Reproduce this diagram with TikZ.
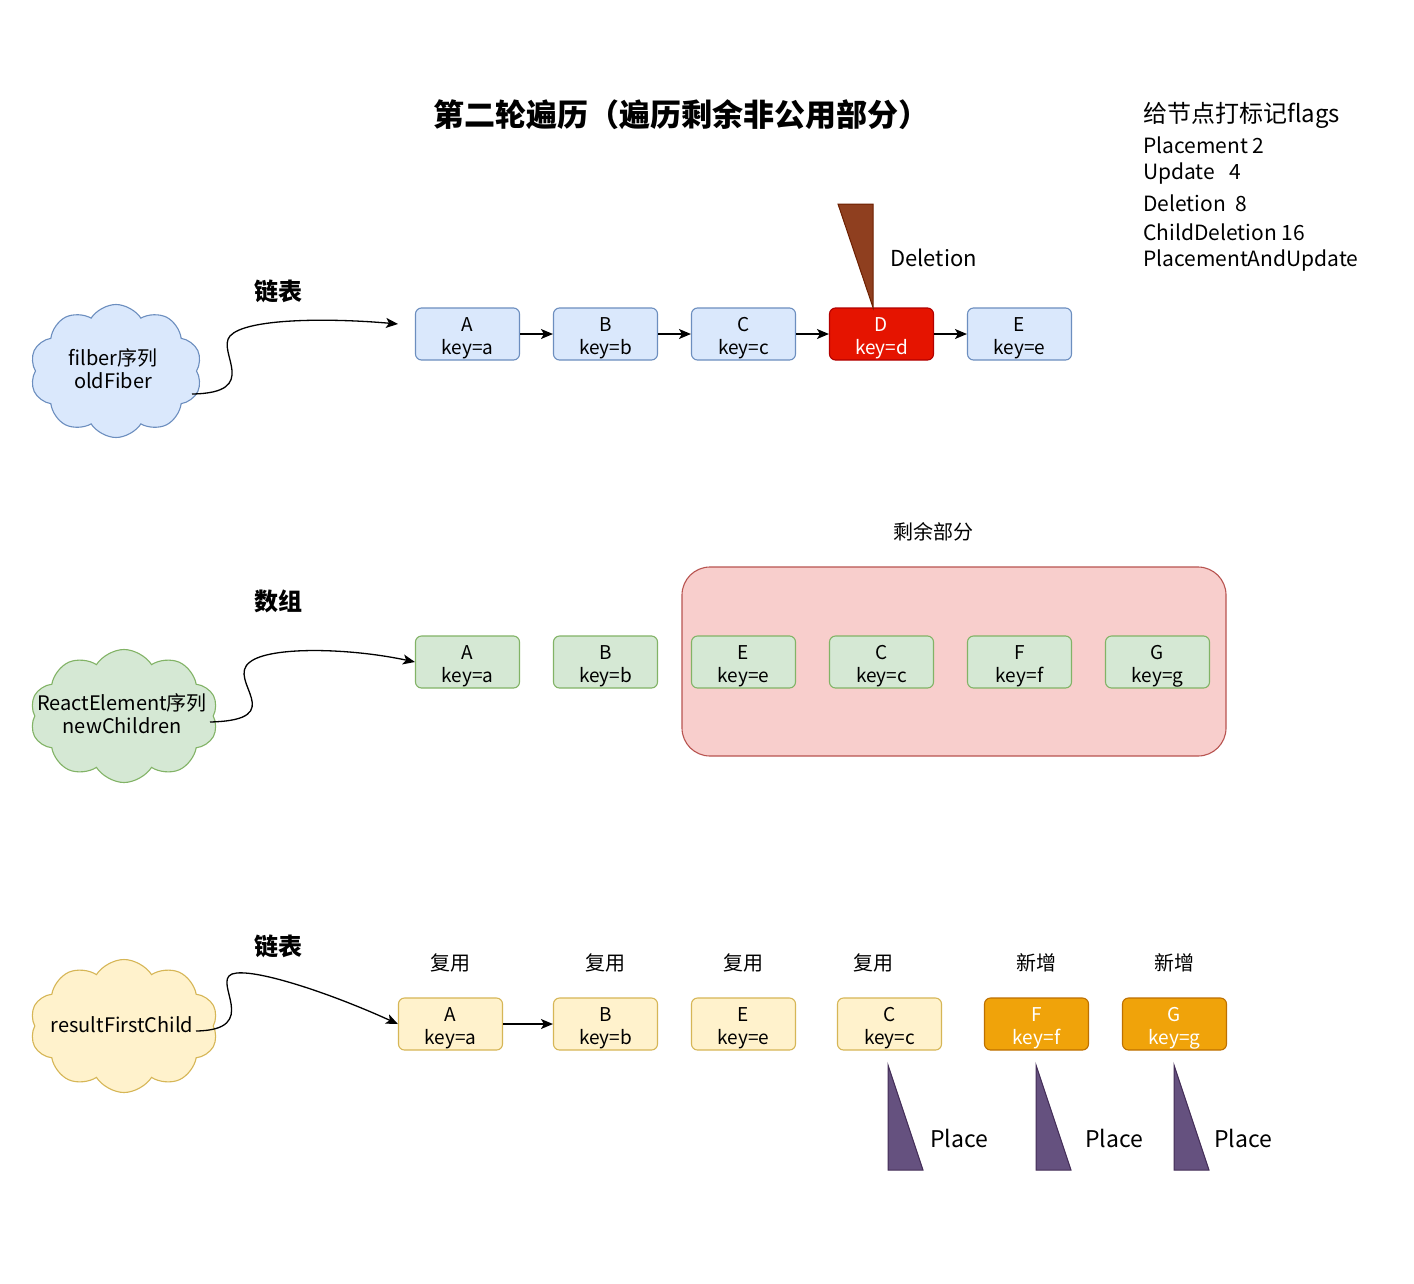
\documentclass[tikz,border=0pt]{standalone}
\usepackage{fontspec}
\setmainfont{Noto Sans CJK SC}
\usetikzlibrary{arrows.meta,shapes.symbols}
\definecolor{bfill}{HTML}{DAE8FC}\definecolor{bline}{HTML}{6C8EBF}
\definecolor{gfill}{HTML}{D5E8D4}\definecolor{gline}{HTML}{82B366}
\definecolor{yfill}{HTML}{FFF2CC}\definecolor{yline}{HTML}{D6B656}
\definecolor{rfill}{HTML}{E51400}\definecolor{rline}{HTML}{B20000}
\definecolor{ofill}{HTML}{F0A30A}\definecolor{oline}{HTML}{BD7000}
\definecolor{pfill}{HTML}{F8CECC}\definecolor{pline}{HTML}{B85450}
\definecolor{vfill}{HTML}{65517F}\definecolor{vline}{HTML}{432D57}
\definecolor{brfill}{HTML}{8F3F1F}\definecolor{brline}{HTML}{6D1F00}
\newcommand\keytext[2]{\raisebox{-4pt}[\height][\depth]{\begin{tabular}{@{}c@{}}#1\\key=#2\end{tabular}}}
\tikzset{
  keybox/.style={draw, rounded corners=6pt, minimum width=104pt, minimum height=52pt,
    inner sep=0pt, font=\fontsize{19}{23}\selectfont, line width=1.1pt},
  bluebox/.style={keybox, fill=bfill, draw=bline},
  greenbox/.style={keybox, fill=gfill, draw=gline},
  yellowbox/.style={keybox, fill=yfill, draw=yline},
  redbox/.style={keybox, fill=rfill, draw=rline, text=white},
  orangebox/.style={keybox, fill=ofill, draw=oline, text=white},
  cloudshape/.style={cloud, cloud puffs=10, cloud puff arc=115, draw, line width=1.1pt, inner sep=0pt},
  cloudtext/.style={align=center, font=\fontsize{20}{23}\selectfont, inner sep=0pt},
  link/.style={-{Stealth[length=12pt,width=10pt,inset=3pt]}, line width=1.3pt},
  rowlabel/.style={font=\fontsize{24}{28}\selectfont\bfseries},
  small/.style={font=\fontsize{20}{24}\selectfont},
  flag/.style={anchor=west, inner sep=0pt, font=\fontsize{21}{25}\selectfont},
  bigtext/.style={font=\fontsize{22}{26}\selectfont, inner sep=0pt}
}
\begin{document}
\begin{tikzpicture}[x=1pt,y=-1pt]
\useasboundingbox[fill=white] (0,0) rectangle (1414,1283);

% title
\node[font=\fontsize{31}{36}\selectfont\bfseries] (title) at (681,115) {第二轮遍历（遍历剩余非公用部分）};

% flags
\node[flag, font=\fontsize{24}{28}\selectfont] (f1) at (1143,115) {给节点打标记flags};
\node[flag] (f2) at (1143,145) {Placement 2};
\node[flag] (f3) at (1143,174) {Update \ \ 4};
\node[flag] (f4) at (1143,203) {Deletion \ 8};
\node[flag] (f5) at (1143,232) {ChildDeletion 16};
\node[flag] (f6) at (1143,261) {PlacementAndUpdate};

% ---------- row 1 ----------
\node[rowlabel] (l1) at (278,291) {链表};
\node[cloudshape, fill=bfill, draw=bline, minimum width=172pt, minimum height=133pt] (c1) at (116,371) {};
\node[cloudtext] (c1t) at (113,369) {filber序列\\oldFiber};
\node[bluebox] (a1) at (467.5,334) {\keytext{A}{a}};
\node[bluebox] (b1) at (605.5,334) {\keytext{B}{b}};
\node[bluebox] (cc1) at (743.5,334) {\keytext{C}{c}};
\node[redbox] (d1) at (881.5,334) {\keytext{D}{d}};
\node[bluebox] (e1) at (1019.5,334) {\keytext{E}{e}};
\draw[link] (a1) -- (b1);
\draw[link] (b1) -- (cc1);
\draw[link] (cc1) -- (d1);
\draw[link] (d1) -- (e1);
\coordinate (s1) at (192,394);
\coordinate (t1) at (398,324);
\draw[link] (s1) .. controls (262,393) and (216,352) .. (230,336) .. controls (246,318) and (330,318) .. (t1);
\filldraw[fill=brfill, draw=brline, line width=1pt] (838,204) -- (873,204) -- (d1.north -| 873,0) -- cycle;
\node[bigtext, anchor=west] (del) at (890,258) {Deletion};

% ---------- row 2 ----------
\node[small] (rem) at (933,532) {剩余部分};
\node[draw=pline, fill=pfill, rounded corners=28pt, line width=1.1pt, minimum width=544pt, minimum height=189pt, inner sep=0pt] (box) at (954,661.5) {};
\node[rowlabel] (l2) at (278,601) {数组};
\node[cloudshape, fill=gfill, draw=gline, minimum width=188pt, minimum height=133pt] (c2) at (124,716) {};
\node[cloudtext] (c2t) at (122,714) {ReactElement序列\\newChildren};
\node[greenbox] (a2) at (467.5,662) {\keytext{A}{a}};
\node[greenbox] (b2) at (605.5,662) {\keytext{B}{b}};
\node[greenbox] (e2) at (743.5,662) {\keytext{E}{e}};
\node[greenbox] (cc2) at (881.5,662) {\keytext{C}{c}};
\node[greenbox] (f2b) at (1019.5,662) {\keytext{F}{f}};
\node[greenbox] (g2) at (1157.5,662) {\keytext{G}{g}};
\coordinate (s2) at (210,722);
\draw[link] (s2) .. controls (292,720) and (225,680) .. (250,662) .. controls (270,646) and (350,648) .. (a2.west);

% ---------- row 3 ----------
\node[rowlabel] (l3) at (278,946) {链表};
\node[cloudshape, fill=yfill, draw=yline, minimum width=188pt, minimum height=133pt] (c3) at (124,1026) {};
\node[cloudtext] (c3t) at (122,1025) {resultFirstChild};
\node[yellowbox] (a3) at (450.5,1024) {\keytext{A}{a}};
\node[yellowbox] (b3) at (605.5,1024) {\keytext{B}{b}};
\node[yellowbox] (e3) at (743.5,1024) {\keytext{E}{e}};
\node[yellowbox] (cc3) at (889.5,1024) {\keytext{C}{c}};
\node[orangebox] (f3b) at (1036.5,1024) {\keytext{F}{f}};
\node[orangebox] (g3) at (1174.5,1024) {\keytext{G}{g}};
\draw[link] (a3) -- (b3);
\coordinate (s3) at (196,1031);
\draw[link] (s3) .. controls (262,1030) and (212,982) .. (232,974) .. controls (252,967) and (330,993) .. (a3.west);
\node[small] (u1) at (450,963) {复用};
\node[small] (u2) at (605,963) {复用};
\node[small] (u3) at (743,963) {复用};
\node[small] (u4) at (873,963) {复用};
\node[small] (n1) at (1036,963) {新增};
\node[small] (n2) at (1174,963) {新增};
\foreach \x/\lx/\nm in {888/959/p1, 1036/1114/p2, 1174/1243/p3}{
  \filldraw[fill=vfill, draw=vline, line width=1pt] (\x,1065) -- (\x,1170) -- (\x+35,1170) -- cycle;
  \node[bigtext, font=\fontsize{23}{27}\selectfont] (\nm) at (\lx,1138) {Place};
}
\end{tikzpicture}
\end{document}
